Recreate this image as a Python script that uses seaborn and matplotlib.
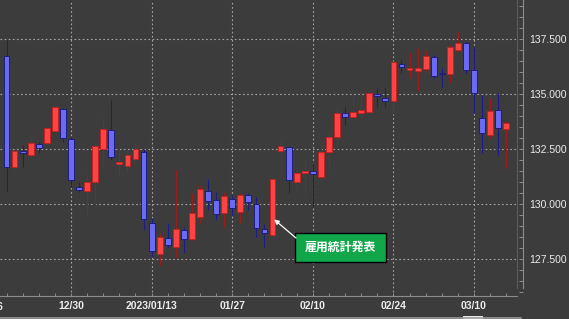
import numpy as np
import matplotlib
matplotlib.use("Agg")
import matplotlib.pyplot as plt
import seaborn as sns
from matplotlib.ticker import FixedLocator, MultipleLocator, FormatStrFormatter
from matplotlib.lines import Line2D
from matplotlib.patches import Rectangle
import matplotlib.transforms as mtransforms

# ---------------- data (USD/JPY daily) ----------------
dates = ['12/20', '12/21', '12/22', '12/23', '12/26', '12/27', '12/28', '12/29', '12/30',
         '01/02', '01/03', '01/04', '01/05', '01/06', '01/09', '01/10', '01/11', '01/12', '01/13',
         '01/16', '01/17', '01/18', '01/19', '01/20', '01/23', '01/24', '01/25', '01/26', '01/27',
         '01/30', '01/31', '02/01', '02/02', '02/03', '02/06', '02/07', '02/08', '02/09', '02/10',
         '02/13', '02/14', '02/15', '02/16', '02/17', '02/20', '02/21', '02/22', '02/23', '02/24',
         '02/27', '02/28', '03/01', '03/02', '03/03', '03/06', '03/07', '03/08', '03/09', '03/10',
         '03/13', '03/14', '03/15', '03/16']

opens = [136.73, 131.67, 132.40, 132.23, 132.71, 132.76, 133.33, 134.33, 132.97,
         130.79, 130.59, 131.01, 132.50, 133.36, 131.80, 131.74, 132.05, 132.38, 129.15,
         127.71, 128.44, 128.03, 128.82, 128.41, 129.40, 130.59, 130.18, 129.60, 130.23,
         129.65, 130.41, 130.00, 128.85, 128.60, 132.41, 132.60, 131.01, 131.39, 131.50,
         131.21, 132.38, 133.06, 134.12, 133.97, 134.15, 134.20, 135.00, 134.80, 134.68,
         136.35, 136.09, 136.05, 136.12, 136.70, 135.97, 135.90, 137.00, 137.30, 136.09,
         133.90, 133.14, 134.27, 133.40]
highs = [137.45, 132.55, 132.68, 133.06, 132.83, 133.52, 134.45, 134.38, 133.06,
         131.00, 131.40, 132.76, 133.97, 134.77, 132.53, 132.45, 132.83, 132.50, 129.36,
         128.68, 129.12, 131.55, 128.97, 130.49, 130.86, 131.12, 130.56, 130.56, 130.41,
         130.50, 130.50, 130.33, 129.08, 131.20, 132.91, 132.65, 131.70, 132.00, 131.85,
         132.91, 133.29, 134.42, 134.42, 135.03, 135.03, 135.10, 135.26, 135.33, 136.50,
         136.55, 136.85, 137.07, 137.00, 136.75, 136.17, 137.23, 137.83, 137.35, 137.15,
         134.95, 134.80, 135.03, 133.75]
lows = [130.56, 131.55, 131.67, 132.15, 132.30, 132.68, 133.29, 132.83, 130.79,
        130.56, 129.42, 129.95, 131.70, 132.00, 131.32, 131.40, 131.90, 128.82, 127.60,
        127.23, 127.99, 127.60, 127.76, 128.36, 129.12, 129.73, 129.27, 128.97, 129.50,
        129.15, 129.73, 128.51, 128.06, 128.36, 131.40, 130.49, 130.64, 130.33, 129.88,
        131.10, 131.55, 132.60, 133.59, 133.90, 134.00, 134.15, 134.42, 134.40, 134.10,
        135.94, 135.71, 135.18, 136.00, 135.71, 135.33, 135.56, 136.90, 135.94, 134.12,
        132.30, 133.00, 132.23, 131.62]
closes = [131.70, 132.42, 132.32, 132.76, 132.56, 133.47, 134.42, 132.99, 131.09,
          130.64, 130.98, 132.65, 133.42, 132.12, 131.90, 132.23, 132.49, 129.32, 127.86,
          128.49, 128.14, 128.86, 128.41, 129.58, 130.67, 130.15, 129.55, 130.35, 129.82,
          130.43, 130.10, 128.90, 128.70, 131.15, 132.64, 131.09, 131.42, 131.51, 131.35,
          132.38, 133.06, 134.15, 133.94, 134.17, 134.27, 135.03, 134.91, 134.68, 136.44,
          136.24, 136.20, 136.20, 136.73, 135.82, 135.90, 137.12, 137.30, 136.09, 135.06,
          133.24, 134.23, 133.44, 133.70]

xtick_dates = ['12/30', '01/13', '01/27', '02/10', '02/24', '03/10']
xtick_labels = ['12/30', '2023/01/13', '01/27', '02/10', '02/24', '03/10']
cut_label = '12/16'            # label two weeks before 12/30, mostly outside the view
annot_date = '02/03'
annot_text = '雇用統計発表'
annot_price = 129.3

# ---------------- style ----------------
BG = '#3c3c3c'
UP_BODY, UP_EDGE, UP_WICK = '#ff4242', '#c42020', '#9c1c1c'
DN_BODY, DN_EDGE, DN_WICK = '#6a6af5', '#16167a', '#1c1c88'
AXC = '#8c8c8c'
TXT = '#ececec'
LBL_W = 'bold'

sns.set_theme(style='dark', rc={'axes.facecolor': BG, 'figure.facecolor': BG,
                                'savefig.facecolor': BG})
plt.rcParams['font.family'] = ['Liberation Sans', 'DejaVu Sans']

W, H = 569, 319
fig = plt.figure(figsize=(W / 100, H / 100), dpi=100)
ax_bottom_px = 296
ax_right_px = 517
ax = fig.add_axes([0, 1 - ax_bottom_px / H, ax_right_px / W, ax_bottom_px / H])

o = np.array(opens); c = np.array(closes); hi = np.array(highs); lo = np.array(lows)
x = np.arange(len(dates))
up = c >= o

wick_cols = np.where(up, UP_WICK, DN_WICK)
ax.vlines(x, lo, hi, colors=wick_cols, linewidth=0.75, zorder=2)

body_bottom = np.minimum(o, c)
body_h = np.maximum(np.abs(c - o), 0.04)
ax.bar(x, body_h, bottom=body_bottom, width=0.72,
       color=np.where(up, UP_BODY, DN_BODY), edgecolor=np.where(up, UP_EDGE, DN_EDGE),
       linewidth=0.6, zorder=3)

ax.set_xlim(-0.81, 63.33)
ax.set_ylim(125.82, 139.27)

# ticks
tick_pos = [dates.index(d) for d in xtick_dates]
ax.xaxis.set_major_locator(FixedLocator(tick_pos))
ax.set_xticklabels(xtick_labels, fontweight=LBL_W)
ax.xaxis.set_minor_locator(FixedLocator(x[::2]))
ax.tick_params(axis='x', which='both', direction='in', length=2.3, width=0.7, color=AXC,
               labelsize=7.5, labelcolor=TXT, pad=3.6, bottom=True, top=False)

ax.yaxis.tick_right()
ax.yaxis.set_major_locator(MultipleLocator(2.5))
ax.yaxis.set_minor_locator(MultipleLocator(0.5))
ax.yaxis.set_major_formatter(FormatStrFormatter('%.3f'))
ax.tick_params(axis='y', which='both', direction='in', length=3, width=0.7, color=AXC,
               labelsize=7.5, labelcolor=TXT, pad=4.3, right=True, left=False,
               labelright=True, labelleft=False)
for t in ax.get_yticklabels():
    t.set_fontweight(LBL_W)

# partially visible first label
trans = mtransforms.blended_transform_factory(ax.transData, ax.transAxes)
ax.text(tick_pos[0] - 10, -(307 - ax_bottom_px) / ax_bottom_px, cut_label, transform=trans,
        ha='center', va='center', fontsize=7.5, color=TXT, fontweight=LBL_W, clip_on=False)

# grid
ax.grid(True, which='major', color='#a6a6a6', linestyle=(0, (1.5, 2.2)), linewidth=0.8)
ax.grid(False, which='minor')
ax.set_axisbelow(True)

# spines
for s in ['top', 'left']:
    ax.spines[s].set_visible(False)
ax.spines['bottom'].set_color(AXC)
ax.spines['bottom'].set_linewidth(0.8)
spine_low = 126.18
ax.spines['right'].set_position(('outward', 4.3))
ax.spines['right'].set_bounds(spine_low, 139.27)
ax.spines['right'].set_color(AXC)
ax.spines['right'].set_linewidth(0.8)
ylo, yhi = ax.get_ylim()
frac_low = (spine_low - ylo) / (yhi - ylo)
ax.plot([1, 1], [frac_low, 1], transform=ax.transAxes, color='#5c5c5c', lw=0.8,
        clip_on=False, zorder=1)

# annotation
ai = dates.index(annot_date)
box_px = (295, 233, 386, 262)  # left, top, right, bottom in pixels
bx0 = box_px[0] / ax_right_px
by0 = 1 - box_px[3] / ax_bottom_px
bw = (box_px[2] - box_px[0]) / ax_right_px
bh = (box_px[3] - box_px[1]) / ax_bottom_px
ax.add_patch(Rectangle((bx0, by0), bw, bh, transform=ax.transAxes, facecolor='#12a64b',
                       edgecolor='black', lw=1.0, zorder=5))
ax.text(bx0 + bw / 2, by0 + bh / 2, annot_text, transform=ax.transAxes, ha='center',
        va='center', fontsize=8.6, color='white', weight='bold',
        family=['Noto Sans CJK JP', 'DejaVu Sans'], zorder=6)
ax.annotate('', xy=(ai + 0.2, annot_price), xycoords='data',
            xytext=(296 / ax_right_px, 1 - 238 / ax_bottom_px), textcoords='axes fraction',
            arrowprops=dict(arrowstyle='-|>', color='white', lw=0.9, mutation_scale=7,
                            shrinkA=0, shrinkB=0), zorder=6)

# bottom strip (scroll bar)
fig.add_artist(Line2D([0, 521 / W], [1.5 / H, 1.5 / H], color='#9a9a9a', lw=1.2))
fig.add_artist(Rectangle((463 / W, 0), 20 / W, 3 / H, transform=fig.transFigure,
                         facecolor='#e8e8e8', edgecolor='none'))

fig.savefig('out.png', dpi=100, facecolor=BG)
